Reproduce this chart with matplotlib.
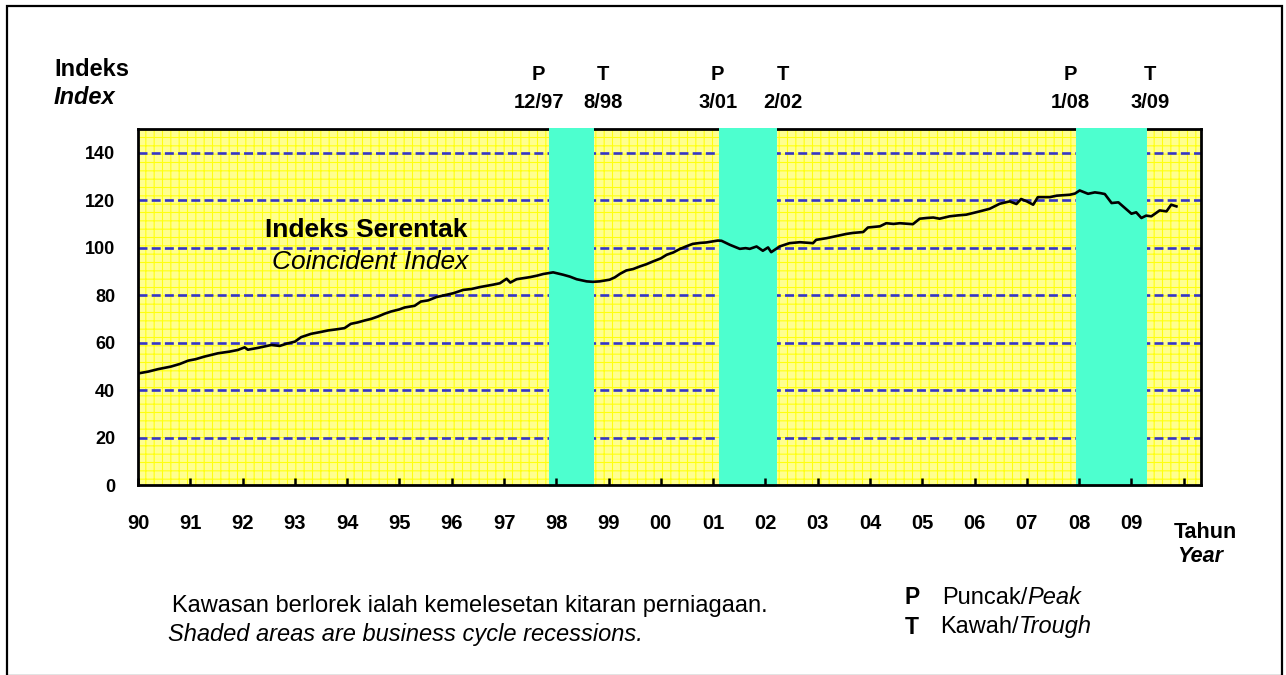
import matplotlib
matplotlib.use("Agg")
import matplotlib.pyplot as plt
from matplotlib.patches import Rectangle
import matplotlib.transforms as mtransforms

plt.rcParams['font.family'] = ['Liberation Sans', 'DejaVu Sans']
plt.rcParams['hatch.linewidth'] = 0.8

# ---- data (decimal year, index value) ----
years = [1990.00, 1990.20, 1990.38, 1990.63, 1990.80, 1990.96, 1991.10, 1991.27, 1991.53,
         1991.75, 1991.91, 1992.04, 1992.10, 1992.30, 1992.55, 1992.71, 1992.85, 1993.00,
         1993.12, 1993.31, 1993.50, 1993.63, 1993.80, 1993.95, 1994.07, 1994.20, 1994.33,
         1994.46, 1994.59, 1994.72, 1994.84, 1995.00, 1995.10, 1995.29, 1995.41, 1995.55,
         1995.71, 1995.87, 1996.03, 1996.22, 1996.38, 1996.54, 1996.67, 1996.79, 1996.92,
         1997.05, 1997.12, 1997.24, 1997.38, 1997.50, 1997.63, 1997.75, 1997.94, 1998.13,
         1998.26, 1998.39, 1998.58, 1998.70, 1998.83, 1999.02, 1999.12, 1999.22, 1999.34,
         1999.47, 1999.60, 1999.72, 1999.85, 2000.00, 2000.11, 2000.24, 2000.36, 2000.49,
         2000.61, 2000.75, 2000.87, 2001.09, 2001.16, 2001.32, 2001.51, 2001.62, 2001.70,
         2001.83, 2001.95, 2002.05, 2002.11, 2002.27, 2002.46, 2002.66, 2002.80, 2002.91,
         2002.97, 2003.17, 2003.30, 2003.42, 2003.55, 2003.67, 2003.87, 2003.96, 2004.19,
         2004.31, 2004.45, 2004.57, 2004.82, 2004.95, 2005.08, 2005.21, 2005.33, 2005.52,
         2005.68, 2005.84, 2006.10, 2006.29, 2006.48, 2006.67, 2006.80, 2006.89, 2007.00,
         2007.12, 2007.21, 2007.44, 2007.57, 2007.82, 2007.92, 2008.01, 2008.17, 2008.30,
         2008.40, 2008.49, 2008.62, 2008.75, 2008.91, 2009.00, 2009.09, 2009.19, 2009.28,
         2009.38, 2009.54, 2009.67, 2009.76, 2009.86]
index = [47.0, 47.8, 48.8, 49.9, 51.0, 52.4, 53.0, 54.1, 55.5,
         56.2, 56.9, 58.0, 57.0, 57.8, 59.0, 58.6, 59.6, 60.4,
         62.3, 63.7, 64.5, 65.1, 65.6, 66.1, 67.9, 68.5, 69.3,
         70.0, 71.0, 72.2, 73.1, 74.0, 74.8, 75.5, 77.3, 77.8,
         79.2, 80.0, 80.8, 82.2, 82.6, 83.4, 83.9, 84.4, 85.0,
         86.9, 85.3, 86.7, 87.2, 87.6, 88.2, 88.9, 89.6, 88.6,
         87.8, 86.7, 85.8, 85.6, 85.8, 86.5, 87.5, 89.0, 90.4,
         91.0, 92.1, 93.0, 94.2, 95.5, 97.0, 98.0, 99.4, 100.6,
         101.6, 102.0, 102.2, 103.0, 102.9, 101.2, 99.5, 99.8, 99.5,
         100.5, 98.7, 100.1, 98.1, 100.5, 101.9, 102.3, 102.1, 101.9,
         103.3, 104.0, 104.6, 105.2, 105.8, 106.2, 106.6, 108.5, 109.0,
         110.3, 110.0, 110.3, 109.9, 112.2, 112.5, 112.7, 112.2, 113.2,
         113.6, 113.9, 115.3, 116.4, 118.5, 119.5, 118.4, 120.5, 119.5,
         118.1, 121.3, 121.3, 121.9, 122.3, 122.8, 124.1, 122.7, 123.3,
         123.0, 122.6, 118.8, 119.1, 116.0, 114.3, 114.9, 112.5, 113.5,
         113.2, 115.7, 115.3, 118.1, 117.4]

recession_start = [1997.86, 2001.11, 2007.93]
recession_end = [1998.72, 2002.22, 2009.29]

turn_codes = ['P', 'T', 'P', 'T', 'P', 'T']
turn_dates = ['12/97', '8/98', '3/01', '2/02', '1/08', '3/09']
turn_label_x = [1997.66, 1998.89, 2001.09, 2002.33, 2007.84, 2009.35]

year_ticks = list(range(1990, 2011))
year_labels = ['90', '91', '92', '93', '94', '95', '96', '97', '98', '99',
               '00', '01', '02', '03', '04', '05', '06', '07', '08', '09', '']
y_ticks = [0, 20, 40, 60, 80, 100, 120, 140]

# ---- figure ----
W, H = 1286, 675
fig = plt.figure(figsize=(W / 100, H / 100), dpi=100)
fig.patch.set_facecolor('white')

def fx(px):
    return px / W

def fy(py):
    return 1 - py / H

# outer border
fig.patches.append(Rectangle((fx(7), fy(676)), fx(1282) - fx(7), fy(6) - fy(676),
                             transform=fig.transFigure, fill=False,
                             edgecolor='black', linewidth=1.6, zorder=0))

ax = fig.add_axes([fx(138), fy(485), fx(1201) - fx(138), fy(129) - fy(485)])
ax.set_xlim(1990, 2010.33)
ax.set_ylim(0, 150)
ax.patch.set_facecolor('#FFFF90')

# fine yellow grid texture
ax.add_patch(Rectangle((0, 0), 1, 1, transform=ax.transAxes, facecolor='none',
                       edgecolor='#FFFF10', hatch='++', linewidth=0, zorder=0.5))

# dashed horizontal gridlines
for yv in y_ticks[1:]:
    ax.axhline(yv, color='#3535C8', linewidth=1.9, linestyle=(0, (3.4, 1.6)), zorder=1)

# recession shading
for s, e in zip(recession_start, recession_end):
    ax.axvspan(s, e, ymin=-0.006, ymax=1.004, facecolor='#4DFFCF', edgecolor='none',
               zorder=3, clip_on=False)

ax.plot(years, index, color='black', linewidth=1.9, zorder=4)

for sp in ax.spines.values():
    sp.set_linewidth(2.0)
    sp.set_color('black')
ax.spines['bottom'].set_zorder(3.5)
ax.spines['left'].set_zorder(3.5)
ax.spines['right'].set_zorder(3.5)

ax.set_xticks(year_ticks)
ax.set_xticklabels(year_labels, fontsize=14.5, fontweight='bold')
ax.tick_params(axis='x', direction='in', length=5, width=1.8, pad=21)
ax.set_yticks(y_ticks)
ax.set_yticklabels([str(v) for v in y_ticks], fontsize=13, fontweight='bold')
ax.tick_params(axis='y', length=0, pad=16.5)
ax.xaxis.set_zorder(5)

# series label
ax.text(1996.31, 107.5, 'Indeks Serentak', fontsize=19, fontweight='bold',
        ha='right', va='center', zorder=6)
ax.text(1996.31, 94, 'Coincident Index', fontsize=19, fontstyle='italic',
        ha='right', va='center', zorder=6)

# turning point labels
trans = mtransforms.blended_transform_factory(ax.transData, fig.transFigure)
for xv, c, d in zip(turn_label_x, turn_codes, turn_dates):
    ax.text(xv, fy(75), c, transform=trans, ha='center', va='center',
            fontsize=14.5, fontweight='bold')
    ax.text(xv, fy(103), d, transform=trans, ha='center', va='center',
            fontsize=14.5, fontweight='bold')

# axis titles
fig.text(fx(54), fy(69), 'Indeks', fontsize=17, fontweight='bold', ha='left', va='center')
fig.text(fx(54), fy(98), 'Index', fontsize=17, fontweight='bold', fontstyle='italic',
         ha='left', va='center')
fig.text(fx(1174), fy(532), 'Tahun', fontsize=15.5, fontweight='bold', ha='left', va='center')
fig.text(fx(1177), fy(557), 'Year', fontsize=15.5, fontweight='bold', fontstyle='italic',
         ha='left', va='center')

# notes
fig.text(fx(172), fy(606), 'Kawasan berlorek ialah kemelesetan kitaran perniagaan.',
         fontsize=17, ha='left', va='center')
fig.text(fx(168), fy(634), 'Shaded areas are business cycle recessions.',
         fontsize=17, fontstyle='italic', ha='left', va='center')

# P / T key
fig.text(fx(905), fy(598), 'P', fontsize=16.5, fontweight='bold', ha='left', va='center')
fig.text(fx(905), fy(627), 'T', fontsize=16.5, fontweight='bold', ha='left', va='center')
renderer = fig.canvas.get_renderer()
for (word, italic_word, x0, y0) in [('Puncak/', 'Peak', 942, 598),
                                    ('Kawah/', 'Trough', 940, 627)]:
    t1 = fig.text(fx(x0), fy(y0), word, fontsize=17, ha='left', va='center')
    bb = t1.get_window_extent(renderer=renderer)
    fig.text(bb.x1 / W, fy(y0), italic_word, fontsize=17, fontstyle='italic',
             ha='left', va='center')

fig.savefig('out.png', dpi=100)
